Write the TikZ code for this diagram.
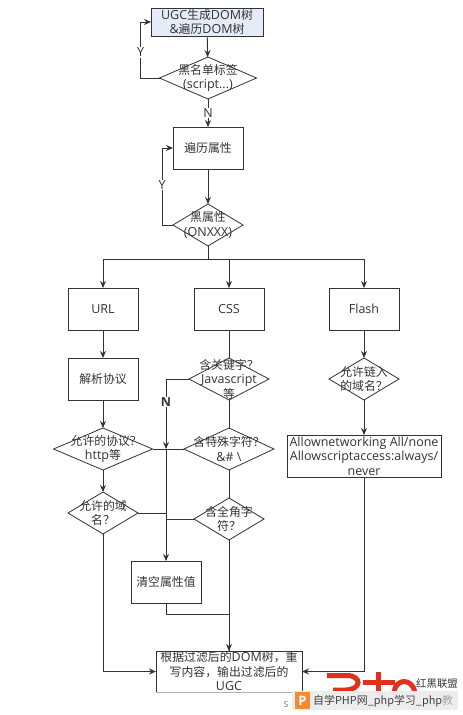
\documentclass[tikz,border=0pt]{standalone}
\usepackage{xcolor}
\usepackage{fontspec}
\setmainfont{Open Sans}
\newfontfamily\cjk[Scale=0.95]{Noto Sans CJK SC}
\usetikzlibrary{shapes.geometric, arrows.meta, positioning, calc}
\definecolor{linegray}{HTML}{333333}
\definecolor{startblue}{HTML}{E6ECF7}
\definecolor{logored}{HTML}{E1301E}
\definecolor{barorange}{HTML}{F58A32}
\definecolor{bargray}{HTML}{EDEDED}

\begin{document}
\begin{tikzpicture}[
  x=1pt, y=-1pt,
  txt/.style={font=\fontsize{12.5}{14.5}\selectfont, text=black!80, align=center, inner sep=0pt},
  proc/.style={rectangle, draw=linegray, line width=0.9pt, minimum width=70pt,
               minimum height=42pt, inner sep=0pt, outer sep=0pt, txt},
  decide/.style={diamond, draw=linegray, line width=0.8pt, minimum width=70pt,
                 minimum height=42pt, inner sep=0pt, outer sep=0pt},
  dtxt/.style={txt},
  line/.style={linegray, line width=0.9pt},
  arr/.style={-{Stealth[length=7pt,width=6pt]}, linegray, line width=0.9pt},
  yn/.style={font=\fontsize{12.5}{14}\selectfont, text=black!80, fill=white, inner sep=1pt},
]
  \useasboundingbox (0,0) rectangle (463,715);

  \node[proc, fill=startblue, minimum width=112pt, minimum height=28pt] at (207,22) (start) {UGC{\cjk 生成}DOM{\cjk 树}\\\&{\cjk 遍历}DOM{\cjk 树}};
  \node[decide, minimum width=97pt, below=21pt of start, xshift=1pt, label={[dtxt]center:{\cjk 黑名单标签}\\(script...)}] (blacktag) {};
  \node[proc, below=28pt of blacktag] (walk) {\cjk 遍历属性};
  \node[decide, below=35pt of walk, label={[dtxt]center:{\cjk 黑属性}\\(ONXXX)}] (blackattr) {};

  \node[proc, below=42pt of blackattr, xshift=21pt] (css) {CSS};
  \node[proc, left=56pt of css] (url) {URL};
  \node[proc, right=65pt of css] (flash) {Flash};

  \node[proc, below=28pt of url] (parse) {\cjk 解析协议};
  \node[decide, minimum width=99pt, below=28pt of parse, label={[dtxt]center:{\cjk 允许的协议}?\\http{\cjk 等}}] (proto) {};
  \node[decide, below=22pt of proto, label={[dtxt]center:{\cjk 允许的域}\\{\cjk 名？}}] (domain) {};

  \node[decide, minimum width=80pt, below=28pt of css, label={[dtxt]center:{\cjk 含关键字？}\\Javascript\\{\cjk 等}}] (keyword) {};
  \node[decide, minimum width=90pt, below=28pt of keyword, label={[dtxt]center:{\cjk 含特殊字符？}\\\&\# \textbackslash}] (special) {};
  \node[decide, below=28pt of special, label={[dtxt]center:{\cjk 含全角字}\\{\cjk 符？}}] (fullwidth) {};

  \node[proc, below=21pt of fullwidth, xshift=-63pt] (clear) {\cjk 清空属性值};
  \node[proc, minimum width=146pt, minimum height=41pt, below=111pt of fullwidth] (output) {{\cjk 根据过滤后的}DOM{\cjk 树，重}\\{\cjk 写内容，输出过滤后的}\\UGC};

  \node[decide, below=28pt of flash, label={[dtxt]center:{\cjk 允许链入}\\{\cjk 的域名？}}] (embed) {};
  \node[proc, minimum width=154pt, below=35pt of embed] (allow) {Allownetworking All/none\\Allowscriptaccess:always/\\never};

  % top of the flow
  \draw[arr] (start) -- (blacktag);
  \draw[arr] (blacktag) -- node[yn,midway]{N} (walk);
  \draw[arr] (walk) -- (blackattr);
  \draw[arr] (blacktag.west) -- ++(-19,0) |- node[yn,pos=0.23]{Y} (start.west);
  \draw[arr] (blackattr.west) -- ++(-11,0) |- node[yn,pos=0.26]{Y} (walk.west);

  % three branches
  \coordinate (split) at ($(blackattr.south)+(0,13)$);
  \draw[line] (blackattr) -- (split);
  \draw[arr] (split) -| (url);
  \draw[arr] (split) -| (css);
  \draw[arr] (split) -| (flash);

  % left column
  \draw[arr] (url) -- (parse);
  \draw[arr] (parse) -- (proto);
  \draw[arr] (proto) -- (domain);
  \draw[arr] (domain) |- (output);
  \draw[line] (proto) -- (special);

  % middle column
  \draw[line] (css) -- (keyword);
  \draw[line] (keyword) -- (special);
  \draw[line] (special) -- (fullwidth);
  \draw[arr] (fullwidth) -- (output);
  \coordinate (merge) at (clear |- proto);
  \draw[arr] (keyword.west) -| (merge);
  \draw[arr] (merge) -- (clear);
  \node[yn, font=\fontsize{12.5}{14}\selectfont\bfseries] at ($(keyword.west -| clear)+(0,23)$) (no) {N};
  \draw[line] (domain.east) -- (domain -| clear);
  \draw[line] (fullwidth.west) -- (fullwidth -| clear);
  \draw[line] (clear.south) -- ++(0,11) -| (fullwidth |- output.north);

  % right column
  \draw[arr] (flash) -- (embed);
  \draw[arr] (embed) -- (allow);
  \draw[arr] (allow) |- (output);
  \draw[black!30, line width=0.9pt] (output.south west) -- (output.south east);

  % watermark
  \draw[logored, line width=5pt] (327,675.5) -- (347,675.5) .. controls (362,675.5) and (362,690) .. (345,690) -- (333,690);
  \draw[logored, line width=5pt] (378,672) -- (378,692) (363,682) -- (395,682);
  \draw[logored, line width=5pt] (394,692) .. controls (396,678) and (412,678) .. (415,692);
  \node[font=\cjk\fontsize{11}{12}\selectfont, text=black!80, inner sep=0pt] at (437,684) (mark) {红黑联盟};
  \fill[bargray] (292,691) rectangle (458,710);
  \fill[barorange] (295,692) rectangle (310,709);
  \node[font=\fontsize{13}{14}\selectfont\bfseries, text=white, inner sep=0pt] at (302.5,700.5) (plogo) {P};
  \node[anchor=west, font=\cjk\fontsize{11.5}{14}\selectfont, text=black!75, inner sep=0pt] at (313,701) (bartext) {自学PHP网\_php学习\_php{\color{black!35}教}};
  \node[font=\fontsize{8}{10}\selectfont, text=black!60, inner sep=0pt] at (286,705) (smalls) {S};
\end{tikzpicture}
\end{document}
